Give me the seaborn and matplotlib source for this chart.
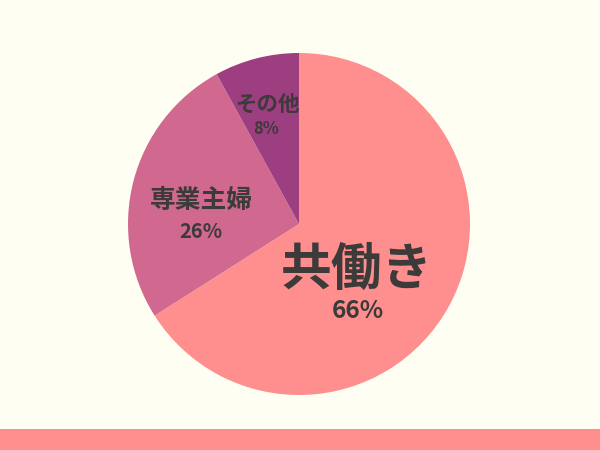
import matplotlib
matplotlib.use("Agg")
import matplotlib.pyplot as plt
import seaborn as sns
from matplotlib.patches import Rectangle

# --- data ---
labels = ["共働き", "専業主婦", "その他"]
shares = [66, 26, 8]
colors = ["#FF8E8F", "#D1688F", "#9C3E7F"]

BG = "#FFFEF2"
TEXT = "#3D3A3A"

sns.set_theme(style="white")
plt.rcParams['font.family'] = ['Noto Sans CJK JP', 'DejaVu Sans']

fig = plt.figure(figsize=(6, 4.5), dpi=100, facecolor=BG)
ax = fig.add_axes([0, 0, 1, 1])
ax.set_facecolor(BG)

cx, cy, r = 299, 450 - 224, 171
ax.pie(shares, colors=colors, startangle=90, counterclock=False,
       center=(cx, cy), radius=r, frame=True,
       wedgeprops=dict(linewidth=0))
ax.set_xlim(0, 600)
ax.set_ylim(0, 450)
ax.set_aspect("equal")
ax.axis("off")

# labels (offsets from the pie centre, in pixels)
label_pos = [(58, -46), (-98, 24), (-32, 120)]
name_size = [36.5, 18.5, 15.5]
pct_size = [17.5, 14.5, 12]
pct_gap = [41, 31, 25]
pct_dx = [1, 0, -1]
for lab, val, (dx, dy), ns, ps, g, px in zip(labels, shares, label_pos, name_size,
                                             pct_size, pct_gap, pct_dx):
    ax.text(cx + dx, cy + dy, lab, ha="center", va="center",
            fontsize=ns, fontweight="bold", color=TEXT)
    ax.text(cx + dx + px, cy + dy - g, f"{val}%", ha="center", va="center",
            fontsize=ps, fontweight="bold", color=TEXT)

# bottom band
fig.add_artist(Rectangle((0, 0), 1, 21 / 450, transform=fig.transFigure,
                         facecolor="#FF8E8F", edgecolor="none"))

fig.savefig("out.png", dpi=100, facecolor=BG)
